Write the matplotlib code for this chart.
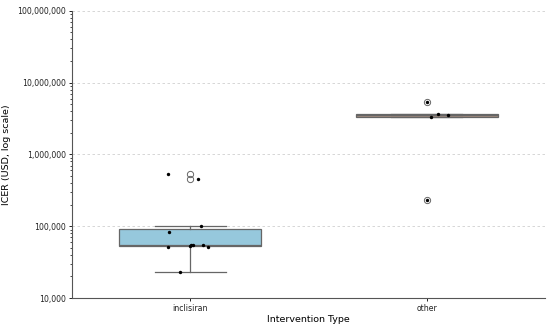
import matplotlib
matplotlib.use("Agg")
import matplotlib.pyplot as plt
import matplotlib.ticker as mticker
import numpy as np

categories = ["inclisiran", "other"]
inclisiran_icer = [530000, 450000, 100000, 83000, 52000, 53000, 54000, 54000, 55000, 52000, 23000]
other_icer = [5400000, 3330000, 3660000, 3530000, 232000]
# horizontal jitter of the strip points (category units)
inclisiran_jitter = [-0.093, 0.034, 0.047, -0.089, -0.093, 0.0, 0.013, 0.004, 0.055, 0.076, -0.042]
other_jitter = [0.0, 0.017, 0.047, 0.089, 0.0]
box_colors = ["#96C8DC", "#A48E80"]

fig, ax = plt.subplots(figsize=(5.5, 3.29), dpi=100)
fig.subplots_adjust(left=0.131, right=0.991, top=0.967, bottom=0.094)

bp = ax.boxplot(
    [inclisiran_icer, other_icer],
    positions=range(len(categories)),
    widths=0.6,
    patch_artist=True,
    whis=1.5,
    boxprops=dict(edgecolor="#666666", linewidth=0.9),
    medianprops=dict(color="#666666", linewidth=0.9),
    whiskerprops=dict(color="#666666", linewidth=0.9),
    capprops=dict(color="#666666", linewidth=0.9),
    flierprops=dict(marker="o", markerfacecolor="none", markeredgecolor="#666666",
                    markersize=4.5, markeredgewidth=0.7),
    zorder=2,
)
for patch, c in zip(bp["boxes"], box_colors):
    patch.set_facecolor(c)
for cap in bp["caps"]:
    mid = cap.get_xdata().mean()
    cap.set_xdata([mid - 0.15, mid + 0.15])

for i, (vals, jit) in enumerate([(inclisiran_icer, inclisiran_jitter), (other_icer, other_jitter)]):
    ax.scatter(np.array(jit) + i, vals, color="black", s=6, zorder=3, linewidths=0)

ax.set_yscale("log")
ax.set_ylim(1e4, 1e8)
ax.set_xlim(-0.5, 1.5)
ax.set_xticks(range(len(categories)))
ax.set_xticklabels(categories)
ax.yaxis.set_major_formatter(mticker.FuncFormatter(lambda v, p: f"{v:,.0f}"))
ax.tick_params(labelsize=5.6, length=2.5, width=0.6, pad=2, labelcolor="#222222")
ax.tick_params(which="minor", length=1.5, width=0.5)
ax.grid(axis="y", which="major", linestyle=(0, (3, 3)), color="#d0d0d0", linewidth=0.6, zorder=0)
ax.set_axisbelow(True)
for s in ["left", "bottom"]:
    ax.spines[s].set_color("#555555")
    ax.spines[s].set_linewidth(0.8)
ax.spines["top"].set_visible(False)
ax.spines["right"].set_visible(False)
ax.set_xlabel("Intervention Type", fontsize=6.8, labelpad=1.5)
ax.set_ylabel("ICER (USD, log scale)", fontsize=6.8, labelpad=4)

plt.savefig("out.png", dpi=100)
